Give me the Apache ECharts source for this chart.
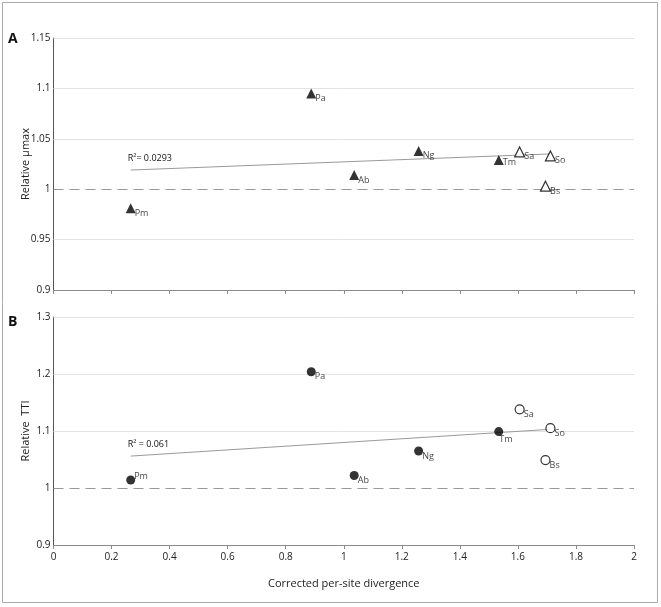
<!DOCTYPE html>
<html>
<head>
<meta charset="utf-8">
<script src="https://cdn.jsdelivr.net/npm/echarts@6/dist/echarts.min.js"></script>
<style>html,body{margin:0;padding:0;background:#fff;}#c{width:661px;height:607px;}</style>
</head>
<body>
<div id="c"></div>
<script>
// ---- data ----
const species = ['Pm', 'Pa', 'Ab', 'Ng', 'Tm', 'Sa', 'So', 'Bs'];
const divergence = [0.266, 0.888, 1.036, 1.258, 1.534, 1.606, 1.712, 1.695];
const relMuMax = [0.981, 1.095, 1.014, 1.038, 1.029, 1.037, 1.033, 1.003];
const relTTI = [1.014, 1.204, 1.022, 1.065, 1.099, 1.138, 1.105, 1.049];
const openGroup = [false, false, false, false, false, true, true, true];
const trendA = [[0.266, 1.019], [1.712, 1.035]];
const trendB = [[0.266, 1.056], [1.712, 1.103]];
const r2A = 'R\u00B2= 0.0293';
const r2B = 'R\u00B2 = 0.061';
const xTicks = [0, 0.2, 0.4, 0.6, 0.8, 1, 1.2, 1.4, 1.6, 1.8, 2];
const yTicksA = [0.9, 0.95, 1, 1.05, 1.1, 1.15];
const yTicksB = [0.9, 1, 1.1, 1.2, 1.3];
const refValue = 1;

// ---- chart ----
const chart = echarts.init(document.getElementById('c'), null, {renderer: 'canvas'});
const FONT = '"Open Sans", "DejaVu Sans", sans-serif';
const txt = '#222';

function labelOffset(panel, name) {
  if (panel === 'B' && name === 'Pm') return [-6, -4];
  if (panel === 'B' && name === 'Tm') return [-9, 8];
  if (panel === 'A' && name === 'Tm') return [-6, 2];
  return [-6, 5];
}

function pointSeries(panel, ys, idx, symbol, size) {
  const items = species.map((n, i) => ({
    name: n,
    value: [divergence[i], ys[i]],
    itemStyle: openGroup[i]
      ? {color: '#fff', borderColor: '#000', borderWidth: 1.2}
      : {color: '#000', borderColor: '#000', borderWidth: 0},
    label: {show: true, formatter: n, position: 'right', offset: labelOffset(panel, n)}
  }));
  return {
    type: 'scatter', xAxisIndex: idx, yAxisIndex: idx, symbol: symbol, symbolSize: size,
    data: items, z: 5,
    label: {fontFamily: FONT, fontSize: 9, color: '#111'}
  };
}

function gridLines(ticks) {
  return ticks.filter(v => v !== refValue && v !== ticks[0]).map(v => ({
    yAxis: v, lineStyle: {color: '#e3e3e3', type: 'solid', width: 1}
  })).concat([{yAxis: refValue, lineStyle: {color: '#999', type: [10, 6], width: 1}}]);
}

function trendSeries(idx, pts, text, ticks) {
  return {
    type: 'line', xAxisIndex: idx, yAxisIndex: idx, showSymbol: true, symbol: 'circle', symbolSize: 1,
    itemStyle: {color: 'rgba(0,0,0,0)'}, z: 3,
    lineStyle: {color: '#9a9a9a', width: 1},
    data: [
      {value: pts[0], label: {show: true, formatter: text, position: 'top', align: 'left', offset: [-3, -2],
        fontFamily: FONT, fontSize: 9, color: '#111'}},
      {value: pts[1]}
    ],
    markLine: {silent: true, symbol: 'none', label: {show: false}, data: gridLines(ticks), z: 1},
    silent: true
  };
}

const xBase = (idx, showLabels, name) => ({
  type: 'value', gridIndex: idx, min: 0, max: 2, interval: 0.2,
  axisLine: {show: true, lineStyle: {color: '#8a8a8a', width: 1}},
  axisTick: {show: true, length: 4, inside: false, lineStyle: {color: '#8a8a8a'}},
  axisLabel: {show: showLabels, fontFamily: FONT, fontSize: 10, color: txt, margin: 7,
    formatter: v => String(Math.round(v * 10) / 10)},
  splitLine: {show: false},
  name: name, nameLocation: 'middle', nameGap: 33, nameMoveOverlap: false,
  nameTextStyle: {fontFamily: FONT, fontSize: 11, color: txt}
});

const yBase = (idx, ticks, interval, name) => ({
  type: 'value', gridIndex: idx, min: ticks[0], max: ticks[ticks.length - 1], interval: interval,
  axisLine: {show: true, lineStyle: {color: '#555', width: 1}},
  axisTick: {show: false},
  axisLabel: {fontFamily: FONT, fontSize: 10, color: txt, margin: 3,
    formatter: v => String(Math.round(v * 100) / 100)},
  splitLine: {show: false},
  name: name, nameLocation: 'middle', nameGap: 22, nameMoveOverlap: false,
  nameTextStyle: {fontFamily: FONT, fontSize: 11, color: txt}
});

chart.setOption({
  animation: false,
  backgroundColor: '#fff',
  grid: [
    {left: 53.5, top: 38, right: 27, height: 252},
    {left: 53.5, top: 317, right: 27, height: 228}
  ],
  xAxis: [xBase(0, false, ''), xBase(1, true, 'Corrected per-site divergence')],
  yAxis: [yBase(0, yTicksA, 0.05, 'Relative \u03BCmax'), yBase(1, yTicksB, 0.1, 'Relative  TTI')],
  graphic: [
    {type: 'rect', shape: {x: 2.5, y: 2.5, width: 655, height: 600}, style: {fill: 'none', stroke: '#aaa', lineWidth: 1}, silent: true},
    {type: 'text', left: 8, top: 32, style: {text: 'A', font: 'bold 14px ' + FONT, fill: '#111'}},
    {type: 'text', left: 8, top: 315, style: {text: 'B', font: 'bold 14px ' + FONT, fill: '#111'}}
  ],
  series: [
    trendSeries(0, trendA, r2A, yTicksA),
    pointSeries('A', relMuMax, 0, 'triangle', 10),
    trendSeries(1, trendB, r2B, yTicksB),
    pointSeries('B', relTTI, 1, 'circle', 9)
  ]
});
</script>
</body>
</html>
